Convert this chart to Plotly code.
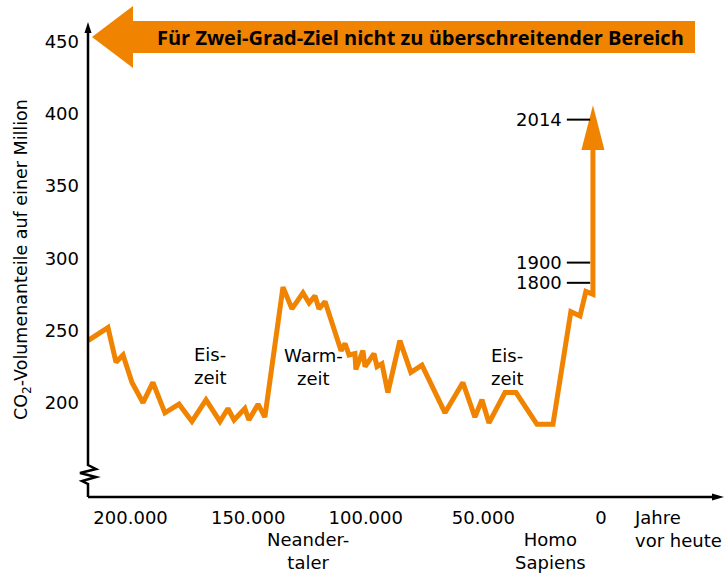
import plotly.graph_objects as go

# ---- data (thousand years before today, CO2 ppm) ----
years_ago_k = [218.1, 209.6, 206.2, 203.2, 199.4, 194.7, 190.5, 185.4, 179.4, 173.9,
               167.9, 162.0, 158.6, 156.0, 151.4, 149.7, 145.8, 142.9, 135.2, 131.4,
               126.7, 124.1, 121.6, 119.9, 117.3, 110.5, 108.8, 107.1, 104.6, 104.2,
               101.2, 100.3, 96.5, 95.2, 93.1, 90.6, 85.5, 80.8, 76.1, 66.3,
               58.7, 53.6, 50.6, 47.6, 40.8, 36.1, 27.2, 20.4, 12.8, 8.9,
               6.4, 3.4, 3.4]
co2_ppm = [243, 252, 228, 233, 214, 200, 214, 193, 199, 187,
           202, 187, 196, 188, 196, 188, 199, 190, 280, 265,
           276, 269, 274, 265, 270, 236, 241, 233, 234, 223,
           236, 225, 234, 225, 227, 207, 243, 221, 226, 193,
           214, 190, 202, 186, 207, 207, 185, 185, 263, 260,
           277, 275, 397]

year_labels = ["1800", "1900", "2014"]
year_co2 = [283, 297, 396]

x_tick_vals = [200, 150, 100, 50, 0]
x_tick_text = ["200.000", "150.000", "100.000", "50.000", "0"]
y_tick_vals = [200, 250, 300, 350, 400, 450]

ORANGE = "#F08300"
FONT = "DejaVu Sans"
W, H = 727, 573

def px(x, y):
    return x / W, 1 - y / H

fig = go.Figure()

# main curve
fig.add_trace(go.Scatter(x=years_ago_k, y=co2_ppm, mode="lines",
                         line=dict(color=ORANGE, width=5, shape="linear"),
                         hoverinfo="skip", showlegend=False))

# arrow head at end of series
t_end = years_ago_k[-1]
head_base = 375
head_tip = 406
dx = 4.9
fig.add_trace(go.Scatter(x=[t_end - dx, t_end, t_end + dx, t_end - dx],
                         y=[head_base, head_tip, head_base, head_base],
                         mode="lines", fill="toself", fillcolor=ORANGE,
                         line=dict(color=ORANGE, width=0),
                         hoverinfo="skip", showlegend=False))

# year marks
mx, my = [], []
for v in year_co2:
    mx += [14.5, 4.6, None]
    my += [v, v, None]
fig.add_trace(go.Scatter(x=mx, y=my, mode="lines",
                         line=dict(color="black", width=2),
                         hoverinfo="skip", showlegend=False))

annotations = []
for lab, v in zip(year_labels, year_co2):
    annotations.append(dict(x=15.7, y=v, xref="x", yref="y", text=lab,
                            showarrow=False, xanchor="right", yanchor="middle",
                            font=dict(family=FONT, size=18, color="black")))

# axes drawn as shapes (pixel -> paper)
shapes = []
x0, y0 = px(88, 497)
x1, _ = px(716, 497)
yb = [(88, 497), (88, 484), (82, 481), (96, 477), (80, 473), (96, 469), (88, 465), (88, 30)]
path = "M " + " L ".join(f"{px(a,b)[0]},{px(a,b)[1]}" for a, b in yb)
shapes.append(dict(type="path", path=path, xref="paper", yref="paper",
                   line=dict(color="black", width=2.5)))
shapes.append(dict(type="line", xref="paper", yref="paper", x0=x0, y0=y0, x1=x1, y1=y0,
                   line=dict(color="black", width=2.5)))

def poly(pts, color, lw=0):
    p = "M " + " L ".join(f"{px(a,b)[0]},{px(a,b)[1]}" for a, b in pts) + " Z"
    return dict(type="path", path=p, xref="paper", yref="paper",
                fillcolor=color, line=dict(color=color, width=lw))
shapes.append(poly([(88, 22), (84.5, 33), (91.5, 33)], "black"))
shapes.append(poly([(724, 497), (712, 493.5), (712, 500.5)], "black"))
# banner arrow
shapes.append(poly([(92, 37), (133, 6), (133, 21), (695, 21), (695, 53), (133, 53), (133, 68)], ORANGE))

def txt(x, y, s, xanchor="center", size=18, family=FONT, align="center"):
    fx, fy = px(x, y)
    return dict(x=fx, y=fy, xref="paper", yref="paper", text=s, showarrow=False,
                xanchor=xanchor, yanchor="middle", align=align,
                font=dict(family=family, size=size, color="black"))

annotations += [
    txt(420, 37, "<b>Für Zwei-Grad-Ziel nicht zu überschreitender Bereich</b>", size=20, family="Open Sans"),
    txt(192, 366, "Eis-<br>zeit", xanchor="left", align="left"),
    txt(313, 367, "Warm-<br>zeit"),
    txt(489, 367, "Eis-<br>zeit", xanchor="left", align="left"),
    txt(308, 551, "Neander-<br>taler"),
    txt(550, 551, "Homo<br>Sapiens"),
    txt(632, 529, "Jahre<br>vor heute", xanchor="left", align="left"),
]
fx, fy = px(22, 260)
annotations.append(dict(x=fx, y=fy, xref="paper", yref="paper",
                        text="CO<sub>2</sub>-Volumenanteile auf einer Million",
                        showarrow=False, textangle=-90, xanchor="center", yanchor="middle",
                        font=dict(family=FONT, size=17.5, color="black")))

fig.update_layout(
    width=W, height=H,
    margin=dict(l=0, r=0, t=0, b=0, pad=0, autoexpand=False),
    paper_bgcolor="white", plot_bgcolor="white",
    showlegend=False,
    xaxis=dict(domain=[88 / W, 723 / W], range=[218.1, -51.9],
               tickvals=x_tick_vals, ticktext=x_tick_text,
               showgrid=False, zeroline=False, showline=False, ticks="",
               ticklabelstandoff=8,
               tickfont=dict(family=FONT, size=18, color="black")),
    yaxis=dict(domain=[1 - 497 / H, 1 - 22 / H], range=[134.7, 463.6],
               tickvals=y_tick_vals,
               showgrid=False, zeroline=False, showline=False, ticks="",
               ticklabelstandoff=8,
               tickfont=dict(family=FONT, size=18, color="black")),
    shapes=shapes, annotations=annotations,
)

fig.write_html("out.html",
               config={"displayModeBar": False},
               post_script="document.body.style.margin='0';document.body.style.padding='0';")
